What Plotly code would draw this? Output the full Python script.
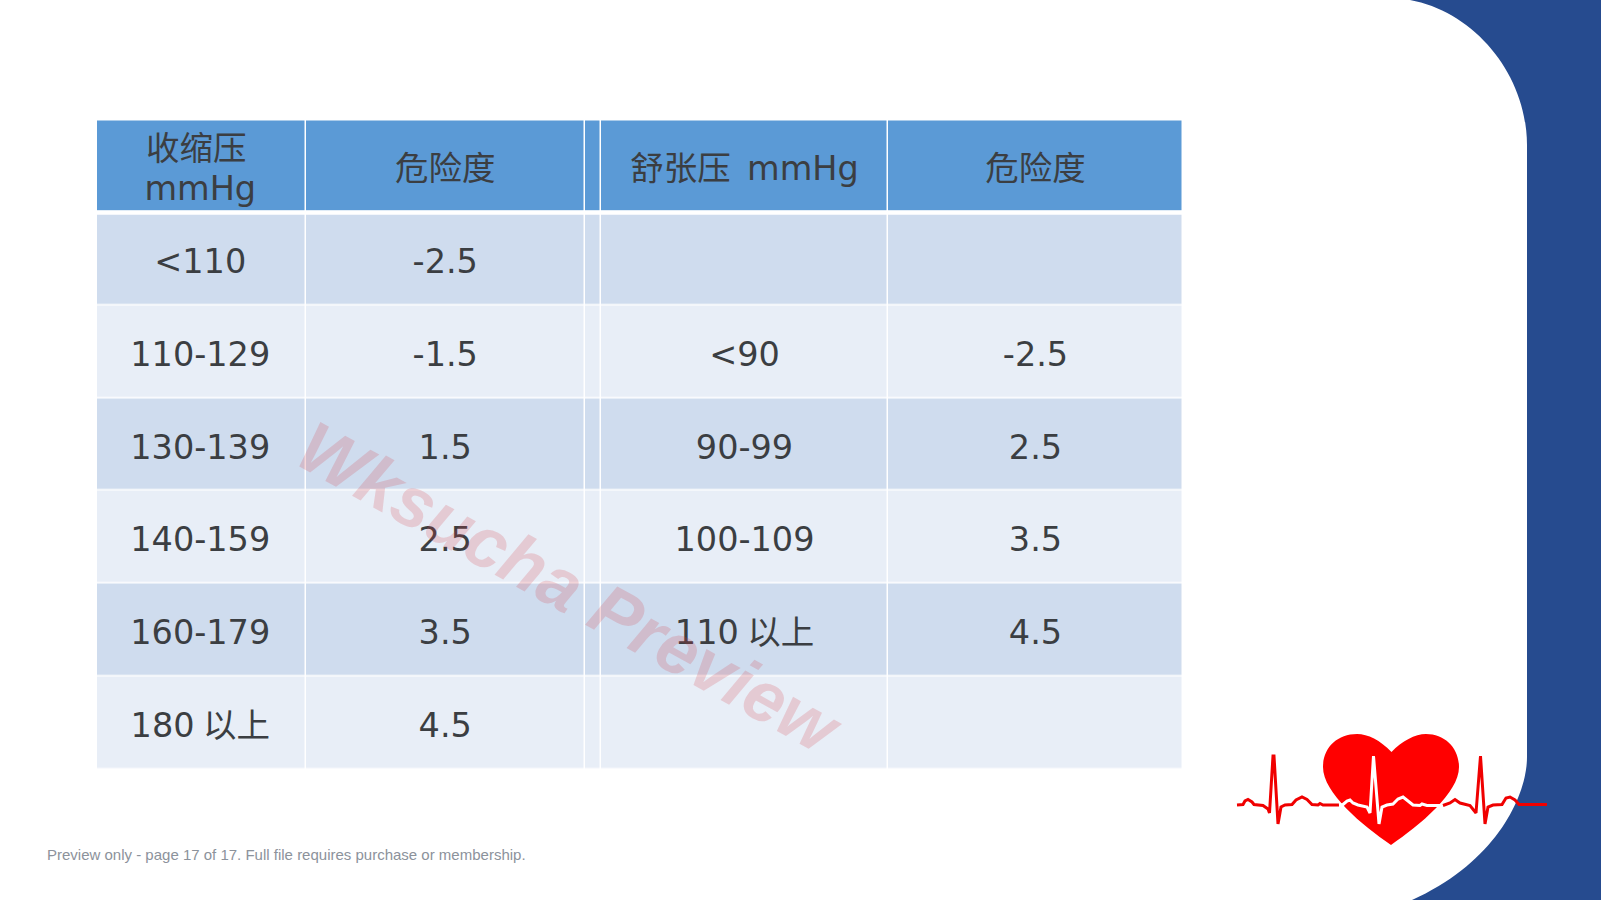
import plotly.graph_objects as go

# Table content
SYSTOLIC_HEADER_LINES = ["收缩压", "mmHg"]
RISK_HEADER = "危险度"
DIASTOLIC_HEADER = "舒张压\u00a0\u2006mmHg"
SYSTOLIC = ["&lt;110", "110-129", "130-139", "140-159", "160-179", "180\u2005以上"]
SYSTOLIC_RISK = ["-2.5", "-1.5", "1.5", "2.5", "3.5", "4.5"]
DIASTOLIC = ["", "&lt;90", "90-99", "100-109", "110\u2005以上", ""]
DIASTOLIC_RISK = ["", "-2.5", "2.5", "3.5", "4.5", ""]

# Table grid, page pixels
COL_EDGES = [97, 305.5, 585, 601, 888, 1183]
ROW_EDGES = [120.5, 212.5, 305.5, 398.5, 490.5, 583.5, 676.5, 769.5]
HEADER_LEVEL, DARK_LEVEL, LIGHT_LEVEL = 0, 1, 2
TEXT_SHIFT = 6

# ECG trace
ECG_LEFT_X = [1237, 1243, 1245, 1248, 1252, 1254, 1263, 1268, 1269.5, 1273, 1274, 1278, 1281, 1285, 1292, 1296, 1302, 1307, 1312, 1318, 1320, 1323, 1339]
ECG_LEFT_Y = [805, 804.5, 801, 799.5, 802, 804.5, 805.5, 809, 813, 756, 756, 824, 807, 805, 804.5, 800, 797, 799.5, 804.5, 805, 803.5, 805, 805]
ECG_MID_X = [1339, 1343, 1347, 1350, 1353, 1358, 1367, 1370, 1373.5, 1379, 1382, 1387, 1393, 1398, 1403, 1408, 1413, 1420, 1422, 1427, 1443]
ECG_MID_Y = [805, 804.5, 801, 800, 803, 805, 807, 813, 756, 824, 807, 805, 804, 799, 797, 801, 805, 805.5, 804, 805.5, 805.5]
ECG_RIGHT_X = [1443, 1450, 1455, 1460, 1470, 1476, 1480.5, 1485, 1488, 1493, 1502, 1506, 1510, 1515, 1519, 1547]
ECG_RIGHT_Y = [805.5, 803, 799.5, 803, 805.5, 813, 756, 824, 807, 805, 804.5, 798, 797, 800, 804.5, 804.5]

PANEL_PATH = "M1410 0 C1475 12 1527 75 1527 145 L1527 757 C1527 795 1497 862 1412 900 L1601 900 L1601 0 Z"
HEART_PATH = ("M1391.5 752 C1380 740 1368 734 1357 734 C1337 734 1323 748 1323 767 "
              "C1323 793 1362 825 1391 845 C1420 825 1459 793 1459 767 "
              "C1459 748 1445 734 1426 734 C1415 734 1402 741 1391.5 752 Z")

FONT = "DejaVu Sans, Noto Sans CJK SC, sans-serif"
TEXT_COLOR = "#3b3e42"
TEXT_SIZE = 33.5

col_centers = [(COL_EDGES[i] + COL_EDGES[i + 1]) / 2 for i in range(5)]
col_centers[0] -= 1
row_centers = [(ROW_EDGES[i] + ROW_EDGES[i + 1]) / 2 + TEXT_SHIFT for i in range(7)]
row_centers[0] -= 1

levels = [[HEADER_LEVEL] * 5]
for i in range(6):
    levels.append([DARK_LEVEL if i % 2 == 0 else LIGHT_LEVEL] * 5)

fig = go.Figure()

fig.add_trace(go.Heatmap(
    x=COL_EDGES,
    y=ROW_EDGES,
    z=levels,
    zmin=0,
    zmax=2,
    colorscale=[[0, "#5b9ad6"], [0.5, "#cfdcee"], [1, "#e8eef7"]],
    showscale=False,
    xgap=1.5,
    ygap=1.5,
    hoverinfo="skip",
))

columns = [
    (0, "", SYSTOLIC),
    (1, RISK_HEADER, SYSTOLIC_RISK),
    (3, DIASTOLIC_HEADER, DIASTOLIC),
    (4, RISK_HEADER, DIASTOLIC_RISK),
]
for col, header, values in columns:
    fig.add_trace(go.Scatter(
        x=[col_centers[col]] * 7,
        y=row_centers,
        text=[header] + values,
        mode="text",
        textposition="middle center",
        textfont=dict(family=FONT, size=TEXT_SIZE, color=TEXT_COLOR),
        hoverinfo="skip",
    ))

# first header cell wraps onto two lines, tighter than <br> would set them
fig.add_trace(go.Scatter(
    x=[col_centers[0] - 4, col_centers[0]],
    y=[row_centers[0] - 20, row_centers[0] + 20],
    text=SYSTOLIC_HEADER_LINES,
    mode="text",
    textposition="middle center",
    textfont=dict(family=FONT, size=TEXT_SIZE, color=TEXT_COLOR),
    hoverinfo="skip",
))

for ecg_x, ecg_y, color in [
    (ECG_LEFT_X, ECG_LEFT_Y, "#f00000"),
    (ECG_MID_X, ECG_MID_Y, "#ffffff"),
    (ECG_RIGHT_X, ECG_RIGHT_Y, "#f00000"),
]:
    fig.add_trace(go.Scatter(
        x=ecg_x,
        y=ecg_y,
        mode="lines",
        line=dict(color=color, width=3),
        hoverinfo="skip",
    ))

fig.update_layout(
    width=1601,
    height=900,
    margin=dict(l=0, r=0, t=0, b=0),
    paper_bgcolor="white",
    plot_bgcolor="white",
    showlegend=False,
    xaxis=dict(range=[0, 1601], visible=False, fixedrange=True),
    yaxis=dict(range=[900, 0], visible=False, fixedrange=True),
    shapes=[
        dict(type="path", path=PANEL_PATH, fillcolor="#264b8f", line_width=0, layer="below"),
        dict(type="path", path=HEART_PATH, fillcolor="#ff0000", line_width=0, layer="below"),
        dict(type="line", x0=COL_EDGES[0], x1=COL_EDGES[-1], y0=ROW_EDGES[1], y1=ROW_EDGES[1],
             line=dict(color="white", width=4.5)),
    ],
    annotations=[
        dict(text="Wksucha Preview", x=570, y=588, xref="x", yref="y", showarrow=False, textangle=29,
             font=dict(family="Liberation Sans", size=71.5, color="rgba(214,60,70,0.2)", weight="bold", style="italic")),
        dict(text="Preview only - page 17 of 17. Full file requires purchase or membership.",
             x=44.5, y=854, xref="x", yref="y", xanchor="left", showarrow=False,
             font=dict(family="Liberation Sans", size=15, color="#8c929b")),
    ],
)

fig.write_html("out.html", config=dict(displayModeBar=False), post_script="document.body.style.margin='0';")
